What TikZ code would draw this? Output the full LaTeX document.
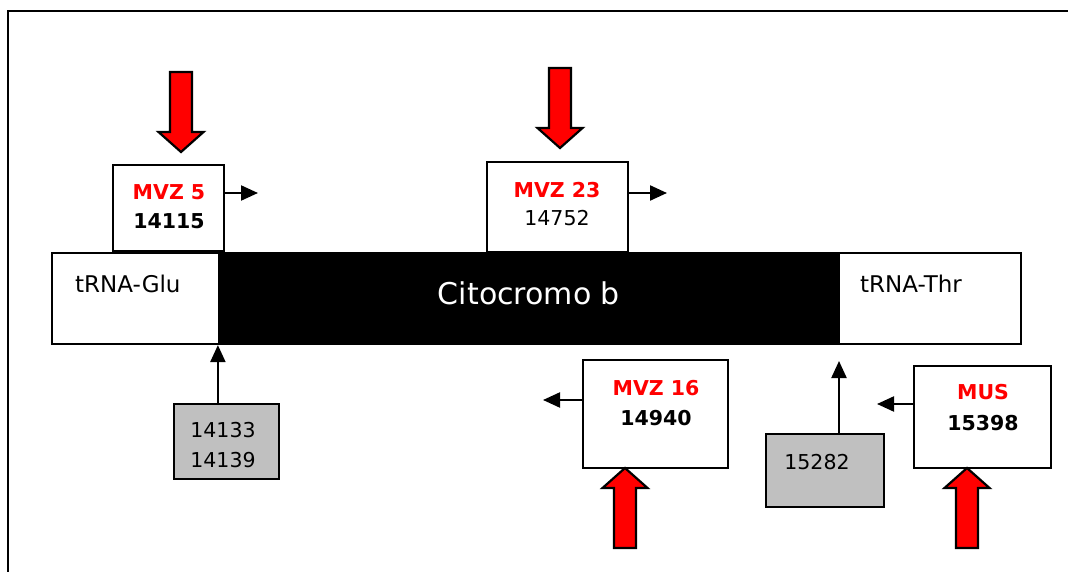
\documentclass[tikz,border=0pt]{standalone}
\usepackage{fontspec}
\setmainfont{DejaVu Sans}
\usetikzlibrary{arrows.meta}

\definecolor{mkred}{RGB}{255,0,0}
\definecolor{boxgray}{RGB}{192,192,192}

\tikzset{
  box/.style={draw=black, line width=2.2pt, fill=white, inner sep=0pt},
  graybox/.style={box, fill=boxgray},
  genebox/.style={draw=black, line width=2.2pt, fill=white, inner sep=0pt, minimum height=91pt},
  label/.style={inner sep=0pt, font=\fontsize{20.5}{23}\selectfont},
  boldlabel/.style={inner sep=0pt, font=\fontsize{20.5}{23}\selectfont\bfseries},
  marker/.style={boldlabel, text=mkred},
  pointer/.style={line width=2.2pt, -{Triangle[length=17pt,width=15pt]}},
  fatarrow/.pic={
    \path[fill=mkred, draw=black, line width=2.2pt, line join=miter]
      (-11,-80) -- (11,-80) -- (11,-20) -- (22.5,-20) -- (0,0)
      -- (-22.5,-20) -- (-11,-20) -- cycle;
  }
}

\begin{document}
\begin{tikzpicture}[x=1pt, y=-1pt]
\useasboundingbox (0,0) rectangle (1068,572);
\fill[white] (0,0) rectangle (1068,572);

% outer frame
\draw[line width=2.2pt] (1070,11) -- (8,11) -- (8,575);

% gene map
\node[genebox, minimum width=167pt] (glu) at (135.5,298.5) {};
\node[genebox, fill=black, minimum width=620pt] (cytb) at (529,298.5) {};
\node[genebox, minimum width=182pt] (thr) at (930,298.5) {};
\node[anchor=base west, inner sep=0pt, font=\fontsize{23}{26}\selectfont] (glutxt) at (75,292) {tRNA-Glu};
\node[anchor=base west, inner sep=0pt, font=\fontsize{23}{26}\selectfont] (thrtxt) at (860,292) {tRNA-Thr};
\node[anchor=base, inner sep=0pt, text=white, font=\fontsize{30}{33}\selectfont] (cyttxt) at (529,304) {Citocromo b};

% primer MVZ 5
\node[box, minimum width=111pt, minimum height=86pt] (m5) at (168.5,208) {};
\node[marker] (m5a) at (169,192) {MVZ 5};
\node[boldlabel] (m5b) at (169,221) {14115};
\coordinate (m5end) at (258,193);
\draw[pointer] (m5.east |- m5end) -- (m5end);
\pic at (181,152) {fatarrow};

% primer MVZ 23
\node[box, minimum width=141pt, minimum height=90pt] (m23) at (557.5,207) {};
\node[marker] (m23a) at (557,190) {MVZ 23};
\node[label] (m23b) at (557,218) {14752};
\coordinate (m23end) at (667,193);
\draw[pointer] (m23.east |- m23end) -- (m23end);
\pic at (560,148) {fatarrow};

% primer MVZ 16
\node[box, minimum width=145pt, minimum height=108pt] (m16) at (655.5,414) {};
\node[marker] (m16a) at (656,388) {MVZ 16};
\node[boldlabel] (m16b) at (656,418) {14940};
\coordinate (m16end) at (543,400);
\draw[pointer] (m16.west |- m16end) -- (m16end);
\pic[rotate=180] at (625,468) {fatarrow};

% primer MUS
\node[box, minimum width=137pt, minimum height=102pt] (mus) at (982.5,417) {};
\node[marker] (musa) at (983,392) {MUS};
\node[boldlabel] (musb) at (983,423) {15398};
\coordinate (musend) at (877,404);
\draw[pointer] (mus.west |- musend) -- (musend);
\pic[rotate=180] at (967,468) {fatarrow};

% gene boundaries
\node[graybox, minimum width=105pt, minimum height=75pt] (g1) at (226.5,441.5) {};
\node[label] (g1a) at (223,430) {14133};
\node[label] (g1b) at (223,460) {14139};
\draw[pointer] (g1.north -| cytb.south west) -- (cytb.south west);

\node[graybox, minimum width=118pt, minimum height=73pt] (g2) at (825,470.5) {};
\node[label] (g2a) at (817,462) {15282};
\coordinate (g2end) at (839,361);
\draw[pointer] (g2.north -| g2end) -- (g2end);
\end{tikzpicture}
\end{document}
